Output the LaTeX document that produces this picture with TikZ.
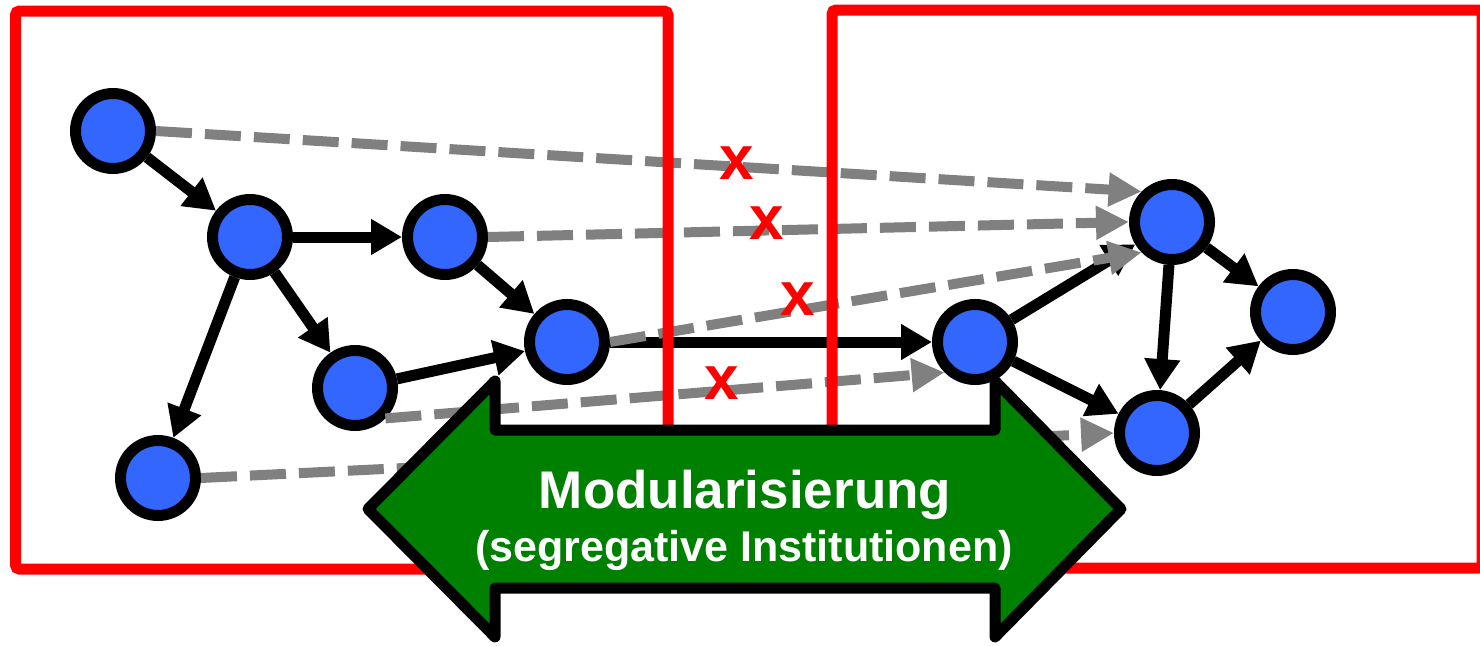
\documentclass[tikz,border=0pt]{standalone}
\usepackage{fontspec}
\setmainfont{Liberation Sans}
\usetikzlibrary{arrows.meta}

\definecolor{nodeblue}{RGB}{51,102,255}
\definecolor{boxred}{RGB}{255,0,0}
\definecolor{arrowgreen}{RGB}{0,128,0}
\definecolor{linkgray}{RGB}{128,128,128}

\begin{document}
\begin{tikzpicture}[x=1pt, y=-1pt,
	vertex/.style={circle, draw=black, line width=11pt, fill=nodeblue, minimum size=75pt, inner sep=0pt},
	link/.style={line width=11pt, -{Triangle[length=31pt, width=34pt]}},
	blocked/.style={line width=10pt, draw=linkgray, dash pattern=on 36pt off 13pt, -{Triangle[length=33pt, width=32pt]}},
	cut/.style={text=boxred, font=\bfseries\fontsize{62}{62}\selectfont, inner sep=0pt}]
	\useasboundingbox (0,0) rectangle (1480,645);

	% first module
	\node[vertex] (a1) at (113,131) {};
	\node[vertex] (a2) at (250,237) {};
	\node[vertex] (a3) at (445,237) {};
	\node[vertex] (a4) at (567,342) {};
	\node[vertex] (a5) at (355,388) {};
	\node[vertex] (a6) at (158,478) {};

	% second module
	\node[vertex] (b1) at (975,342) {};
	\node[vertex] (b2) at (1172,222) {};
	\node[vertex] (b3) at (1293,312) {};
	\node[vertex] (b4) at (1157,433) {};

	\foreach \u/\v in {a1/a2, a2/a3, a2/a5, a2/a6, a3/a4, a5/a4, a4/b1, b1/b2, b1/b4, b2/b3, b2/b4, b4/b3}{
			\draw[link] (\u) -- (\v);
		}

	\draw[blocked] (a1.east) -- (b2.north west);
	\draw[blocked] (a3.east) -- (b2.west);
	\draw[blocked] (a4.east) -- (b2.south west);
	\draw[blocked] (a5.south east) -- (b1.south west);
	\draw[blocked] (a6.east) -- (b4.west);

	\draw[boxred, line width=11pt, rounded corners=4pt] (15.5,11) rectangle (668,569);
	\draw[boxred, line width=11pt, rounded corners=4pt] (832,10) rectangle (1482,568);

	\draw[fill=arrowgreen, line width=11pt, line join=round]
		(368,509) -- (495,381) -- (495,430) -- (995,430) -- (995,381) -- (1121,509)
		-- (995,637) -- (995,588) -- (495,588) -- (495,637) -- cycle;
	\node[text=white, anchor=base, inner sep=0pt, font=\bfseries\fontsize{53}{60}\selectfont] (title) at (745,508) {Modularisierung};
	\node[text=white, anchor=base, inner sep=0pt, font=\bfseries\fontsize{43}{50}\selectfont] (subtitle) at (744,561) {(segregative Institutionen)};

	\node[cut] (cut1) at (737,163) {x};
	\node[cut] (cut2) at (767,223) {x};
	\node[cut] (cut3) at (798,299) {x};
	\node[cut] (cut4) at (722,383) {x};

\end{tikzpicture}
\end{document}
